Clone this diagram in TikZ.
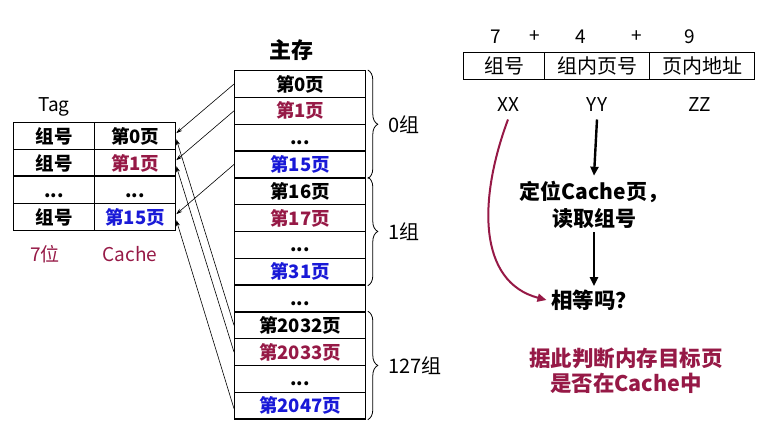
\documentclass[tikz,border=0pt]{standalone}
\usepackage{fontspec}
\setmainfont{Noto Sans CJK SC}
\usetikzlibrary{decorations.pathreplacing,arrows.meta}
\definecolor{wine}{RGB}{150,25,70}
\definecolor{pageblue}{RGB}{25,25,215}
\newcommand{\dotsrow}{\vphantom{第}...}
\begin{document}
\begin{tikzpicture}[x=1pt,y=-1pt,
  cell/.style={draw, line width=1.3pt, inner sep=0pt, anchor=north west,
    font=\bfseries\fontsize{18.5}{20}\selectfont},
  ccell/.style={cell, minimum width=81pt, minimum height=27pt},
  mcell/.style={cell, minimum width=131pt, minimum height=26.8pt},
  acell/.style={cell, minimum height=27pt, font=\fontsize{20}{22}\selectfont},
  plain/.style={font=\fontsize{19}{21}\selectfont},
  grp/.style={font=\fontsize{20}{22}\selectfont, anchor=west},
  link/.style={-{Stealth[length=6pt,width=4pt]}, line width=0.6pt},
  bigarrow/.style={-{Triangle[length=9pt,width=8pt]}, line width=2.4pt},
  redarrow/.style={-{Triangle[length=9pt,width=8pt]}, line width=2pt, draw=wine},
  gbrace/.style={decorate, decoration={brace, amplitude=10pt}, line width=0.8pt},
  note/.style={font=\bfseries\fontsize{21.5}{25}\selectfont, align=center}
]
\useasboundingbox (0,0) rectangle (769,442);

% Cache directory: tag column and page column
\node[plain] (tag) at (54,107) {Tag};
\node[ccell] (t0)  at (13,122) {组号};
\node[ccell] (p0)  at (94,122) {第0页};
\node[ccell] (t1)  at (13,149) {组号};
\node[ccell, text=wine] (p1) at (94,149) {第1页};
\node[ccell] (td)  at (13,176) {\dotsrow};
\node[ccell] (pd)  at (94,176) {\dotsrow};
\node[ccell] (t15) at (13,203) {组号};
\node[ccell, text=pageblue] (p15) at (94,203) {第15页};
\draw[line width=2.2pt] (td.north west) -- (pd.north east);
\node[plain, text=wine] (bits) at (45,254) {7位};
\node[plain, text=wine] (cname) at (130,254) {Cache};

% Main memory pages
\node[font=\bfseries\fontsize{22}{24}\selectfont] (mm) at (291,50) {主存};
\node[mcell] (m1)  at (234,70.0)  {第0页};
\node[mcell, text=wine] (m2) at (234,96.8) {第1页};
\node[mcell] (m3)  at (234,123.6) {\dotsrow};
\node[mcell, text=pageblue] (m4) at (234,150.4) {第15页};
\node[mcell] (m5)  at (234,177.2) {第16页};
\node[mcell, text=wine] (m6) at (234,204.0) {第17页};
\node[mcell] (m7)  at (234,230.8) {\dotsrow};
\node[mcell, text=pageblue] (m8) at (234,257.6) {第31页};
\node[mcell] (m9)  at (234,284.4) {\dotsrow};
\node[mcell] (m10) at (234,311.2) {第2032页};
\node[mcell, text=wine] (m11) at (234,338.0) {第2033页};
\node[mcell] (m12) at (234,364.8) {\dotsrow};
\node[mcell, text=pageblue] (m13) at (234,391.6) {第2047页};

% Group braces
\draw[gbrace] ([xshift=1.5pt]m1.north east) -- ([xshift=1.5pt]m4.south east)
  node[midway, right=17pt, grp] (g0) {0组};
\draw[gbrace] ([xshift=1.5pt]m5.north east) -- ([xshift=1.5pt]m8.south east)
  node[midway, right=17pt, grp] (g1) {1组};
\draw[gbrace] ([xshift=1.5pt]m10.north east) -- ([xshift=1.5pt]m13.south east)
  node[midway, right=17pt, grp] (g127) {127组};

% Page-to-cache mapping
\draw[link] (m1.west)  -- ([yshift=3pt]p0.east);
\draw[link] (m2.west)  -- ([yshift=3pt]p1.east);
\draw[link] (m4.west)  -- ([yshift=3pt]p15.east);
\draw[link] (m10.west) -- ([yshift=-3pt]p0.east);
\draw[link] (m11.west) -- ([yshift=-3pt]p1.east);
\draw[link] ([yshift=-3pt]m13.west) -- ([yshift=-3pt]p15.east);

% Address format
\node[plain] (n7)  at (496,37) {7};
\node[plain] (pl1) at (535,37) {+};
\node[plain] (n4)  at (581,37) {4};
\node[plain] (pl2) at (637,37) {+};
\node[plain] (n9)  at (690,37) {9};
\node[acell, minimum width=81pt]  (a1) at (463,52) {组号};
\node[acell, minimum width=105pt] (a2) at (544,52) {组内页号};
\node[acell, minimum width=105pt] (a3) at (649,52) {页内地址};
\node[plain] (xx) at (508,105) {XX};
\node[plain] (yy) at (597,105) {YY};
\node[plain] (zz) at (700,105) {ZZ};

% Lookup steps
\node[note, font=\bfseries\fontsize{21}{27}\selectfont] (loc) at (594,205) {定位Cache页，\\读取组号};
\node[note] (eq) at (594,300) {相等吗？};
\draw[bigarrow] ([yshift=-4pt]yy.south) -- ([yshift=2pt]loc.north);
\draw[bigarrow] ([yshift=0pt]loc.south) -- ([yshift=0pt]eq.north);
\draw[redarrow] ([yshift=-4pt]xx.south) .. controls (478,200) and (478,282) .. ([xshift=-1pt]eq.west);

\node[note, text=wine] (res) at (626,371) {据此判断内存目标页\\是否在Cache中};
\end{tikzpicture}
\end{document}
